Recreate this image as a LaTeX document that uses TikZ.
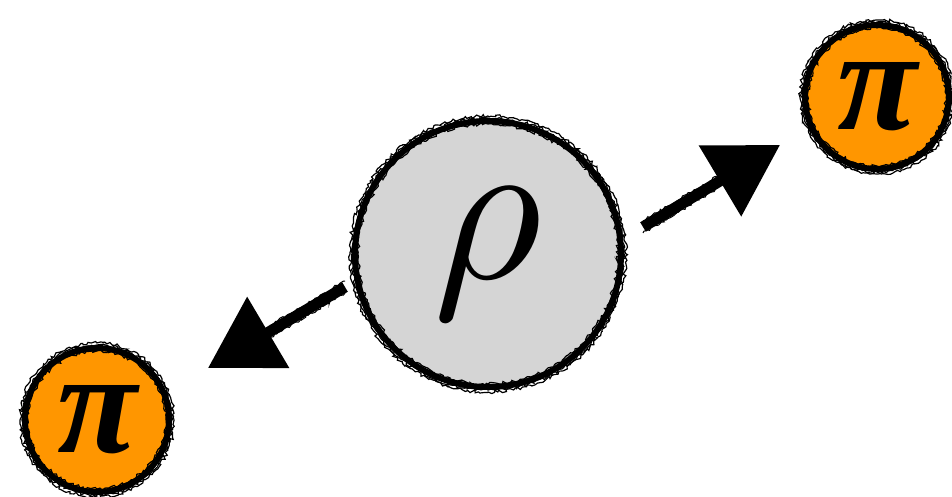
\documentclass[tikz,border=0pt]{standalone}
\usepackage{graphicx}
\usepackage{fontspec}
\setmainfont{Liberation Serif}
\usetikzlibrary{arrows.meta,decorations.pathmorphing,calc}
\definecolor{pio}{RGB}{255,150,0}
\definecolor{rhog}{RGB}{213,213,213}
\begin{document}
\begin{tikzpicture}[x=1pt,y=-1pt,
 rhonode/.style={circle,fill=rhog,draw=black,line width=6pt,minimum size=266pt,inner sep=0pt},
 pinode/.style={circle,fill=pio,draw=black,line width=6pt,minimum size=144pt,inner sep=0pt},
 rough/.style={draw=black,line width=1.2pt,decorate,decoration={random steps,segment length=2.5pt,amplitude=1.7pt}},
 bigarrow/.style={line width=11pt,-{Triangle[length=70pt,width=80pt]}},
 roughar/.style={draw=black,line width=1pt,decorate,decoration={random steps,segment length=2.5pt,amplitude=1.5pt}},
]
\useasboundingbox (0,0) rectangle (952,497);
\node[rhonode] (rho) at (488,254) {\scalebox{21}{$\rho$}};
\node[pinode] (piA) at (877,97) {\fontsize{146}{146}\selectfont\bfseries\itshape π};
\node[pinode] (piB) at (97,420) {\fontsize{146}{146}\selectfont\bfseries\itshape π};
% sketchy rims
\foreach \r in {130,133,136,138}{
  \draw[rough] (rho.center) circle (\r pt);
}
\foreach \r in {69,72,75,77}{
  \draw[rough] (piA.center) circle (\r pt);
  \draw[rough] (piB.center) circle (\r pt);
}
% arrows
\coordinate (aAs) at (643,227);
\coordinate (aAe) at (780,145);
\coordinate (aBs) at (345,287);
\coordinate (aBe) at (208,368);
\draw[bigarrow] (aAs) -- (aAe);
\draw[bigarrow] (aBs) -- (aBe);
\draw[roughar] ([shift={(0,6)}]aAs) -- ([shift={(0,6)}]$(aAs)!0.55!(aAe)$);
\draw[roughar] ([shift={(0,-6)}]aAs) -- ([shift={(0,-6)}]$(aAs)!0.55!(aAe)$);
\draw[roughar] ([shift={(0,6)}]aBs) -- ([shift={(0,6)}]$(aBs)!0.55!(aBe)$);
\draw[roughar] ([shift={(0,-6)}]aBs) -- ([shift={(0,-6)}]$(aBs)!0.55!(aBe)$);
\end{tikzpicture}
\end{document}
